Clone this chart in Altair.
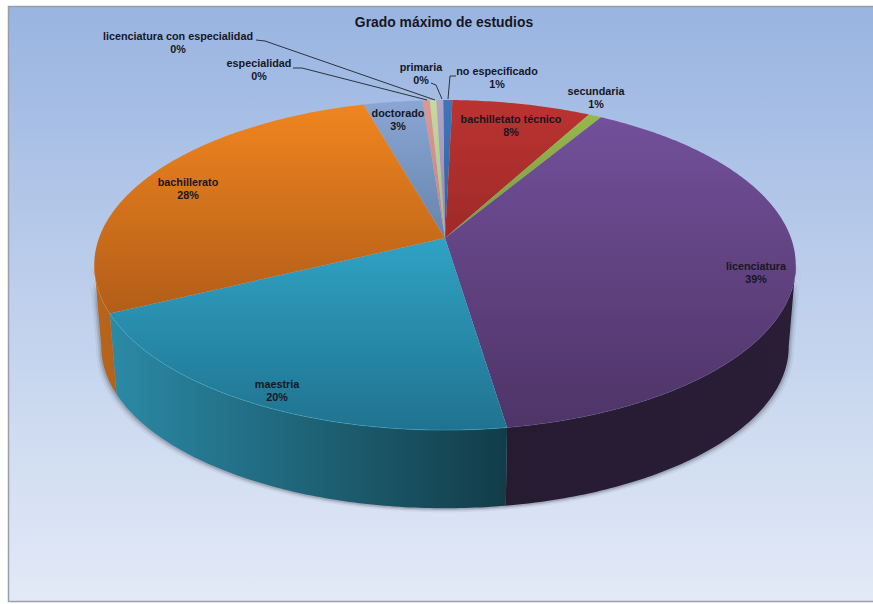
import math
import altair as alt
import pandas as pd

# Categories and their shares, clockwise from twelve o'clock
categories = ["no especificado", "bachilletato técnico", "secundaria", "licenciatura",
              "maestria", "bachillerato", "doctorado", "especialidad",
              "licenciatura con especialidad", "primaria"]
shares = [0.5, 7.5, 0.7, 39.0, 20.2, 27.8, 3.2, 0.38, 0.36, 0.36]

# Top-face gradient stops (upper colour, lower colour) per category
face_colors = {
    "no especificado": ("#3f76ba", "#33609a"),
    "bachilletato técnico": ("#bb3331", "#9e2a29"),
    "secundaria": ("#95b84a", "#7c9a3c"),
    "licenciatura": ("#72509a", "#4e3467"),
    "maestria": ("#30a2c4", "#1f7390"),
    "bachillerato": ("#f0851f", "#b25d18"),
    "doctorado": ("#8aa6d4", "#6784ae"),
    "especialidad": ("#dc9895", "#c28380"),
    "licenciatura con especialidad": ("#c6da9e", "#a9bb85"),
    "primaria": ("#b5a4ca", "#9888ab"),
}
# Side-wall gradient stops (left colour, right colour)
wall_colors = {
    "licenciatura": ("#261b31", "#2a1e37"),
    "maestria": ("#2b8aa6", "#123c48"),
    "bachillerato": ("#b9661b", "#b4621a"),
}
# Walls stop where the rim turns away from the viewer
wall_ranges = {"licenciatura": (27.7, None), "maestria": (None, None), "bachillerato": (None, 72.5)}

# Label layout: centre of the two-line text block
label_x = [497, 511, 596, 756, 277, 188, 398, 259, 178, 421]
label_y = [72, 120, 92, 267, 385, 183, 114, 64, 37, 68]

# Leader lines drawn from the outer labels towards their slices
leader_x = [[456, 450, 448], [293, 302, 427], [256, 265, 435], [431, 436, 442]]
leader_y = [[76, 76, 99], [68, 68, 100], [40, 41, 100], [83, 85, 99]]

# Projection of the tilted disc
CX, CY = 445.0, 238.0
SX, SY, K = 346.0, 160.6, 0.164
DROP, SHRINK = 82.0, 0.98
START = -0.1
STEP = 0.2


def top_point(pct):
    t = 2 * math.pi * (pct + START) / 100
    u, v = math.sin(t), math.cos(t)
    w = 1 + K * v
    return CX + SX * u / w, CY - SY * v / w


def bottom_point(pct):
    x, y = top_point(pct)
    return CX + SHRINK * (x - CX), CY + DROP + SHRINK * (y - CY)


def sweep(a, b):
    n = max(2, int(round((b - a) / STEP)))
    return [a + (b - a) * i / n for i in range(n + 1)]


def frame(points):
    return pd.DataFrame([{"x": x, "y": y, "i": i} for i, (x, y) in enumerate(points)])


def gradient(stops, horizontal=False):
    return alt.Gradient(
        gradient="linear",
        stops=[alt.GradientStop(color=stops[0], offset=0), alt.GradientStop(color=stops[1], offset=1)],
        x1=0, y1=0, x2=1 if horizontal else 0, y2=0 if horizontal else 1,
    )


X = alt.X("x:Q", scale=alt.Scale(domain=[0, 873], nice=False, zero=False), axis=None)
Y = alt.Y("y:Q", scale=alt.Scale(domain=[604, 0], nice=False, zero=False), axis=None)


def polygon(points, **style):
    return alt.Chart(frame(points)).mark_line(strokeWidth=0, **style).encode(x=X, y=Y, order="i:Q")


bounds = {}
cum = 0.0
for name, share in zip(categories, shares):
    bounds[name] = (cum, cum + share)
    cum += share

layers = []

# Panel behind the pie
panel_fill = alt.Gradient(
    gradient="linear",
    stops=[alt.GradientStop(color="#99b4e1", offset=0),
           alt.GradientStop(color="#bfd0ec", offset=0.5),
           alt.GradientStop(color="#e3eaf7", offset=1)],
    x1=0, y1=0, x2=0, y2=1,
)
layers.append(
    alt.Chart(pd.DataFrame({"k": [0]})).mark_rect(fill=panel_fill, stroke="#9a9ea6", strokeWidth=1.5).encode(
        x=alt.value(8.5), x2=alt.value(890), y=alt.value(6.5), y2=alt.value(601.5)
    )
)

# Soft shadow under the cylinder, following the side walls and the lower rim
arc_front = sweep(27.7, 72.5)
outline = [top_point(p) for p in arc_front] + [bottom_point(p) for p in reversed(arc_front)]
for grow, drop, opacity in [(5, 4, 0.08), (3, 2.5, 0.14), (1.5, 1.5, 0.2)]:
    ring = [(CX + (x - CX) * (1 + grow / 346), y + drop) for x, y in outline]
    layers.append(polygon(ring, fill="#4a4f5c", fillOpacity=opacity))

# Visible side walls
for name, stops in wall_colors.items():
    a, b = bounds[name]
    lo, hi = wall_ranges[name]
    a = a if lo is None else lo
    b = b if hi is None else hi
    arc = sweep(a, b)
    pts = [top_point(p) for p in arc] + [bottom_point(p) for p in reversed(arc)]
    layers.append(polygon(pts, fill=gradient(stops, horizontal=True)))

# Top faces
for name in categories:
    a, b = bounds[name]
    pts = [(CX, CY)] + [top_point(p) for p in sweep(a, b)]
    layers.append(polygon(pts, fill=gradient(face_colors[name])))

# Light rim along the front of the top face
rim = {"maestria": "#4fb4cf", "bachillerato": "#d98a3c", "licenciatura": "#6b4c8c"}
for name, color in rim.items():
    a, b = bounds[name]
    a = max(a, 27.7)
    b = min(b, 72.5)
    rim_df = frame([top_point(p) for p in sweep(a, b)])
    layers.append(
        alt.Chart(rim_df).mark_line(stroke=color, strokeWidth=1, opacity=0.4).encode(x=X, y=Y, order="i:Q")
    )

# Leaders
rows = []
for j, (xs, ys) in enumerate(zip(leader_x, leader_y)):
    rows += [{"x": x, "y": y, "i": i, "leader": j} for i, (x, y) in enumerate(zip(xs, ys))]
layers.append(
    alt.Chart(pd.DataFrame(rows)).mark_line(stroke="#2c323e", strokeWidth=1).encode(
        x=X, y=Y, order="i:Q", detail="leader:N"
    )
)

# Category name and rounded share
labels = pd.DataFrame({
    "x": label_x,
    "y": label_y,
    "text": [f"{n}\n{math.floor(s + 0.5)}%" for n, s in zip(categories, shares)],
})
layers.append(
    alt.Chart(labels).mark_text(
        font="Liberation Sans", fontWeight="bold", fontSize=10.8, lineBreak="\n", lineHeight=13,
        color="#17171f", align="center", baseline="middle",
    ).encode(x=X, y=Y, text="text:N")
)

# Title
layers.append(
    alt.Chart(pd.DataFrame({"x": [444], "y": [22.5], "text": ["Grado máximo de estudios"]})).mark_text(
        font="Liberation Sans", fontWeight="bold", fontSize=13.9, color="#17171f",
        align="center", baseline="middle",
    ).encode(x=X, y=Y, text="text:N")
)

chart = alt.layer(*layers).properties(
    width=873, height=604, padding=0, autosize="none", background="white"
).configure_view(stroke=None)

chart.save("out.html", embed_options={"renderer": "svg", "actions": False})
